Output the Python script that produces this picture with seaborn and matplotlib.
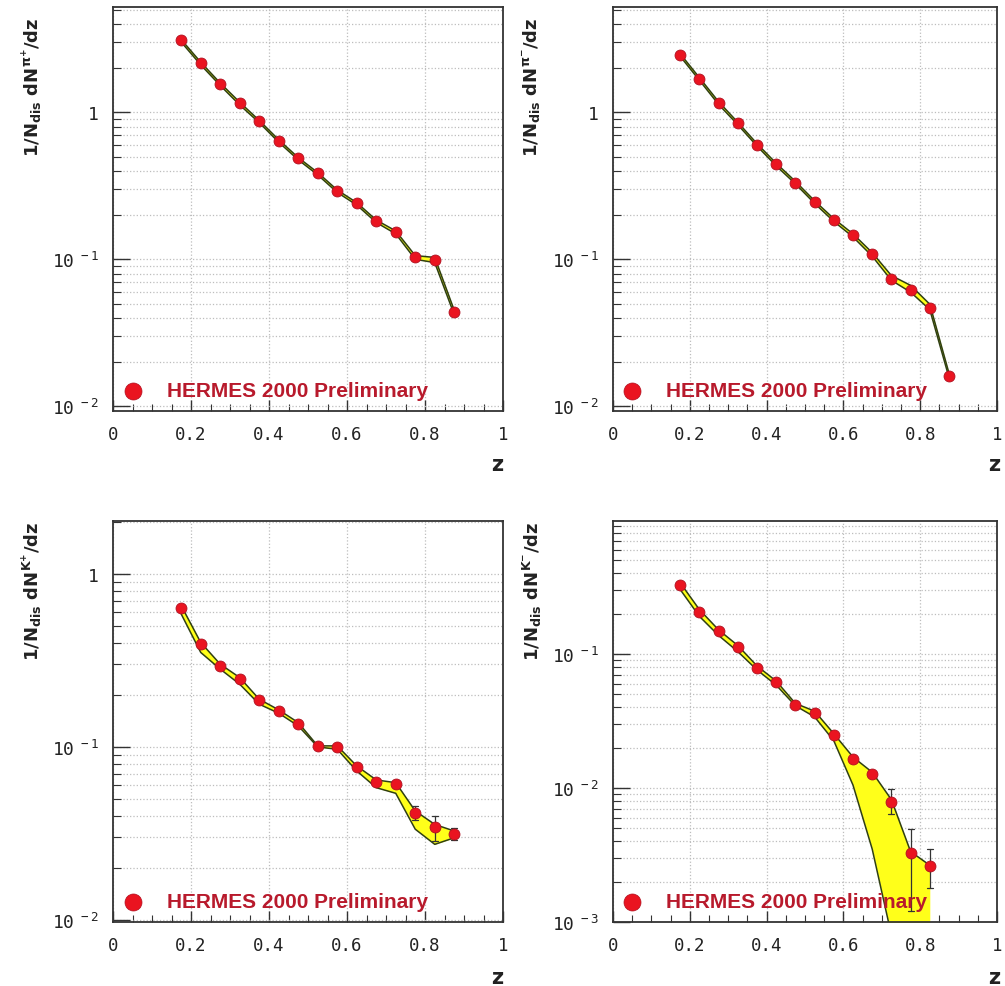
import numpy as np
import pandas as pd
import matplotlib
matplotlib.use("Agg")
import matplotlib.pyplot as plt
import seaborn as sns
from matplotlib.ticker import (FixedLocator, MultipleLocator, LogLocator,
                               FuncFormatter, NullFormatter)

sns.set_theme(style="white")
plt.rcParams['font.family'] = ['DejaVu Sans']
plt.rcParams['mathtext.default'] = 'regular'

# ---------------- data ----------------
z_bins = [0.175, 0.225, 0.275, 0.325, 0.375, 0.425, 0.475, 0.525,
          0.575, 0.625, 0.675, 0.725, 0.775, 0.825, 0.875]
z_bins_km = [0.175, 0.225, 0.275, 0.325, 0.375, 0.425, 0.475, 0.525,
             0.575, 0.625, 0.675, 0.725, 0.775, 0.825]

pip_val = [3.08, 2.16, 1.56, 1.15, 0.87, 0.64, 0.486, 0.384, 0.292, 0.240,
           0.183, 0.154, 0.104, 0.0995, 0.044]
pip_lo = [3.00, 2.10, 1.52, 1.12, 0.85, 0.625, 0.475, 0.375, 0.285, 0.234,
          0.178, 0.149, 0.100, 0.095, 0.042]
pip_hi = [3.12, 2.19, 1.58, 1.17, 0.88, 0.65, 0.492, 0.389, 0.296, 0.243,
          0.185, 0.156, 0.106, 0.103, 0.045]

pim_val = [2.46, 1.69, 1.16, 0.841, 0.602, 0.442, 0.333, 0.246, 0.186, 0.146,
           0.108, 0.0738, 0.0615, 0.0468, 0.0162]
pim_lo = [2.40, 1.65, 1.13, 0.822, 0.589, 0.432, 0.326, 0.240, 0.181, 0.142,
          0.105, 0.0720, 0.0598, 0.0455, 0.0157]
pim_hi = [2.50, 1.72, 1.18, 0.855, 0.612, 0.450, 0.339, 0.250, 0.189, 0.149,
          0.111, 0.0775, 0.0665, 0.0495, 0.0168]

kp_val = [0.641, 0.393, 0.294, 0.247, 0.186, 0.162, 0.136, 0.101, 0.100,
          0.0769, 0.063, 0.0613, 0.0413, 0.0344, 0.0315]
kp_lo = [0.587, 0.352, 0.282, 0.2306, 0.1767, 0.1567, 0.1323, 0.100, 0.0969,
         0.0726, 0.0581, 0.0539, 0.0334, 0.0273, 0.0298]
kp_hi = [0.656, 0.402, 0.301, 0.252, 0.1888, 0.1638, 0.1383, 0.1014, 0.1014,
         0.0776, 0.0644, 0.0621, 0.0426, 0.0356, 0.0326]
kp_err_lo = [np.nan] * 12 + [0.038, 0.0285, 0.029]
kp_err_hi = [np.nan] * 12 + [0.0455, 0.040, 0.034]

km_val = [0.324, 0.205, 0.147, 0.1116, 0.0790, 0.0613, 0.0419, 0.0365,
          0.0247, 0.0165, 0.0126, 0.0079, 0.00329, 0.00262]
km_lo = [0.302, 0.1905, 0.1372, 0.1041, 0.0759, 0.0585, 0.0410, 0.0339,
         0.0225, 0.0105, 0.0035, 0.0008, 0.0002, 0.0001]
km_hi = [0.339, 0.214, 0.151, 0.1155, 0.0813, 0.0627, 0.0427, 0.0374,
         0.0254, 0.0170, 0.0131, 0.00818, 0.00335, 0.00265]
km_err_lo = [np.nan] * 11 + [0.0064, 0.0012, 0.0018]
km_err_hi = [np.nan] * 11 + [0.0098, 0.0049, 0.0035]

legend_text = "HERMES 2000 Preliminary"
x_ticks = [0, 0.2, 0.4, 0.6, 0.8, 1.0]

# ---------------- style ----------------
W, H = 1005, 987
fig = plt.figure(figsize=(W / 100, H / 100), dpi=100)

RED = "#ea1420"
RED_EDGE = "#b01020"
TXT_RED = "#b81a2c"
BAND = "#ffff1a"
EDGE = "#2f3f12"
GRID = "#bdbdbd"


def ax_rect(left, top, right, bottom):
    return [left / W, 1 - bottom / H, (right - left) / W, (bottom - top) / H]


def xfmt(v, pos):
    if abs(v) < 1e-9:
        return "0"
    if abs(v - 1) < 1e-9:
        return "1"
    return f"{v:.1f}"


def yfmt(v, pos):
    e = int(round(np.log10(v)))
    if e == 0:
        return "1"
    return r"$10^{\ %d}$" % e


def panel(rect, x, y, lo, hi, ylim, ylab, err_lo=None, err_hi=None,
          lab_xy=None, z_xy=None):
    ax = fig.add_axes(rect)
    ax.set_yscale("log")
    ax.set_xlim(0, 1)
    ax.set_ylim(*ylim)

    ax.fill_between(x, lo, hi, color=BAND, lw=0, zorder=2)
    sns.lineplot(x=x, y=lo, ax=ax, color=EDGE, lw=1.1, zorder=3,
                 estimator=None, sort=False)
    sns.lineplot(x=x, y=hi, ax=ax, color=EDGE, lw=1.1, zorder=3,
                 estimator=None, sort=False)
    if err_lo is not None:
        for xi, a, b in zip(x, err_lo, err_hi):
            if np.isnan(a):
                continue
            ax.plot([xi, xi], [a, b], color="#333333", lw=0.9, zorder=4)
            ax.plot([xi - 0.008, xi + 0.008], [a, a], color="#333333",
                    lw=0.9, zorder=4)
            ax.plot([xi - 0.008, xi + 0.008], [b, b], color="#333333",
                    lw=0.9, zorder=4)
    sns.scatterplot(x=x, y=y, ax=ax, s=62, color=RED, edgecolor=RED_EDGE,
                    linewidth=0.6, zorder=5, legend=False)

    # ticks
    ax.xaxis.set_major_locator(FixedLocator(x_ticks))
    ax.xaxis.set_minor_locator(MultipleLocator(0.05))
    ax.xaxis.set_major_formatter(FuncFormatter(xfmt))
    ax.yaxis.set_major_locator(LogLocator(base=10, numticks=12))
    ax.yaxis.set_minor_locator(LogLocator(base=10, subs=range(2, 10),
                                          numticks=30))
    ax.yaxis.set_major_formatter(FuncFormatter(yfmt))
    ax.yaxis.set_minor_formatter(NullFormatter())
    ax.tick_params(axis="x", which="major", direction="in", length=8,
                   width=1.0, color="#333333", pad=10, labelsize=12.5)
    ax.tick_params(axis="x", which="minor", direction="in", length=5,
                   width=0.8, color="#333333")
    ax.tick_params(axis="y", which="major", direction="in", length=12,
                   width=1.0, color="#333333", pad=10, labelsize=13)
    ax.tick_params(axis="y", which="minor", direction="in", length=6,
                   width=0.8, color="#333333")
    ax.tick_params(which="both", bottom=True, left=True, top=False,
                   right=False)
    for lab in ax.get_xticklabels() + ax.get_yticklabels():
        lab.set_fontfamily("DejaVu Sans Mono")
        lab.set_color("#222222")

    # grid
    ax.grid(True, which="major", axis="x", ls=":", color=GRID, lw=0.9)
    ax.grid(True, which="both", axis="y", ls=":", color=GRID, lw=0.9)
    ax.set_axisbelow(True)

    for sp in ax.spines.values():
        sp.set_color("#333333")
        sp.set_linewidth(1.3)

    ax.set_xlabel("")
    ax.set_ylabel("")

    # legend-like annotation
    ax.scatter([0.05], [0.05], transform=ax.transAxes, s=150, color=RED,
               edgecolor=RED_EDGE, linewidth=0.5, zorder=7, clip_on=False)
    ax.text(0.138, 0.05, legend_text, transform=ax.transAxes, ha="left",
            va="center", fontsize=15, fontweight="bold", color=TXT_RED,
            family=["Liberation Sans", "DejaVu Sans"], zorder=8)

    fig.text(lab_xy[0] / W, 1 - lab_xy[1] / H, ylab, rotation=90,
             ha="center", va="top", fontsize=13, fontweight="bold",
             color="#222222")
    fig.text(z_xy[0] / W, 1 - z_xy[1] / H, "z", ha="center", va="center",
             fontsize=15, fontweight="bold", color="#222222")
    return ax


panel(ax_rect(113, 8, 503, 412), z_bins, pip_val, pip_lo, pip_hi,
      (0.0093, 5.2), r"1/N$_{dis}$ dN$^{\pi^{+}}$/dz",
      lab_xy=(32, 18), z_xy=(497, 465))
panel(ax_rect(613, 8, 997, 412), z_bins, pim_val, pim_lo, pim_hi,
      (0.0093, 5.2), r"1/N$_{dis}$ dN$^{\pi^{-}}$/dz",
      lab_xy=(532, 18), z_xy=(994, 465))
panel(ax_rect(113, 522, 503, 923), z_bins, kp_val, kp_lo, kp_hi,
      (0.0097, 2.03), r"1/N$_{dis}$ dN$^{K^{+}}$/dz",
      err_lo=kp_err_lo, err_hi=kp_err_hi,
      lab_xy=(32, 522), z_xy=(497, 978))
panel(ax_rect(613, 522, 997, 923), z_bins_km, km_val, km_lo, km_hi,
      (0.001, 0.98), r"1/N$_{dis}$ dN$^{K^{-}}$/dz",
      err_lo=km_err_lo, err_hi=km_err_hi,
      lab_xy=(532, 522), z_xy=(994, 978))

fig.savefig("out.png", dpi=100, facecolor="white")
